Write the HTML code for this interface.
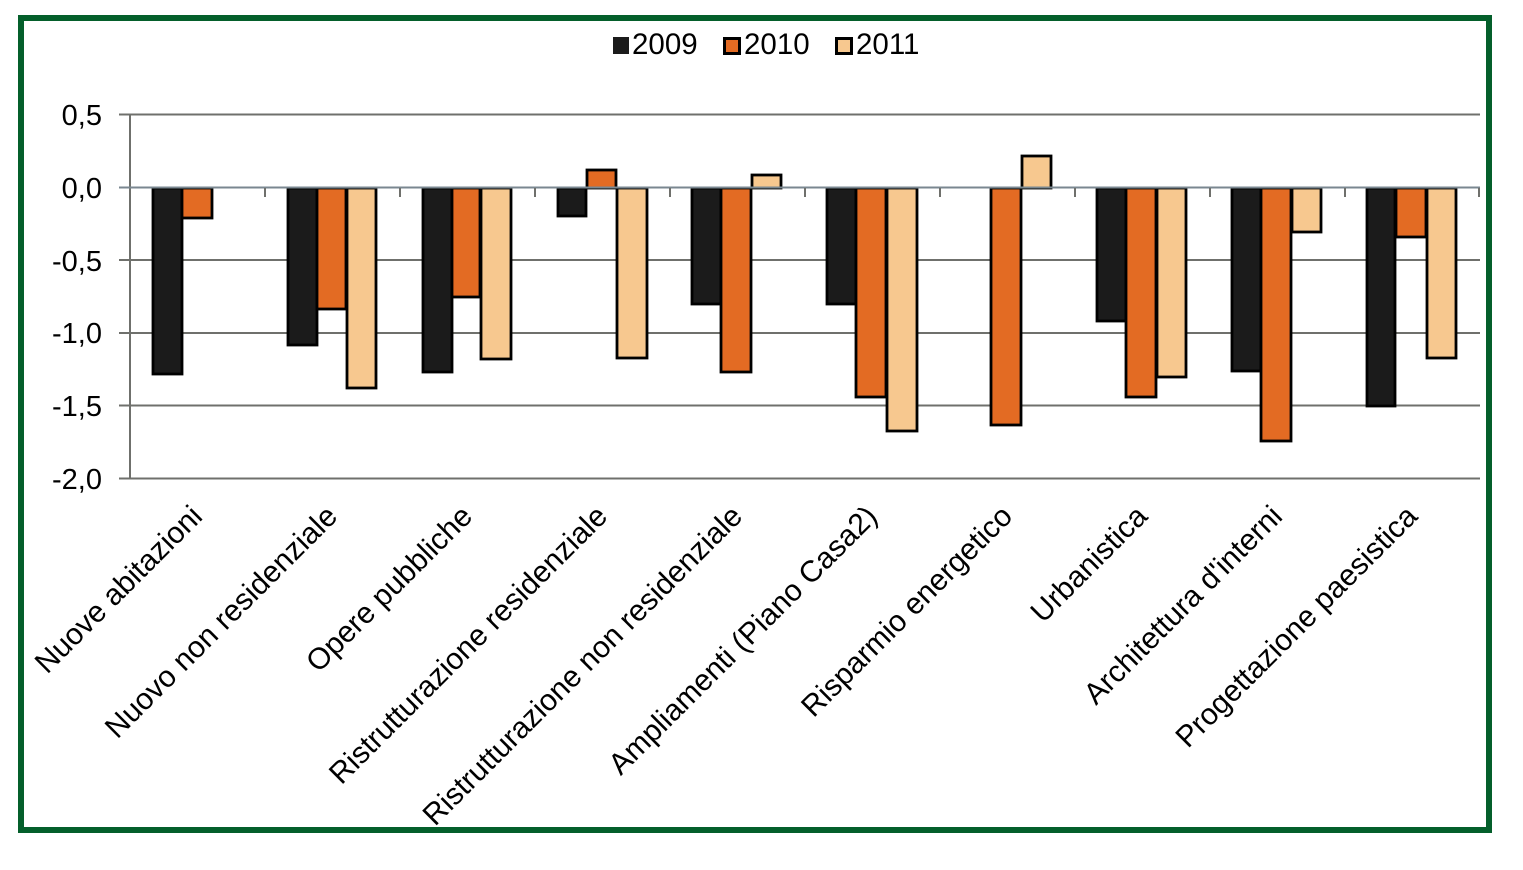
<!DOCTYPE html>
<html><head><meta charset="utf-8"><style>
html,body{margin:0;padding:0;background:#fff;}
svg{display:block;}
text{font-family:"Liberation Sans",Arial,sans-serif;fill:#000;}
</style></head><body>
<svg width="1523" height="870" viewBox="0 0 1523 870" xmlns="http://www.w3.org/2000/svg">
<rect x="0" y="0" width="1523" height="870" fill="#fff"/>
<rect x="21" y="18" width="1468" height="812" fill="#fff" stroke="#045f2b" stroke-width="6"/>

<!-- legend -->
<rect x="613" y="37" width="16" height="17" fill="#1b1b1b"/>
<text x="632" y="54" font-size="29.5">2009</text>
<rect x="724.5" y="38.5" width="15" height="15" fill="#e36b23" stroke="#000" stroke-width="3"/>
<text x="744" y="54" font-size="29.5">2010</text>
<rect x="836.5" y="38.5" width="15" height="15" fill="#f7c88f" stroke="#000" stroke-width="3"/>
<text x="856" y="54" font-size="29.5">2011</text>

<!-- gridlines -->
<g stroke="#6f706c" stroke-width="2">
<line x1="119" y1="114.5" x2="1480" y2="114.5"/>
<line x1="119" y1="260" x2="1480" y2="260"/>
<line x1="119" y1="333" x2="1480" y2="333"/>
<line x1="119" y1="405.5" x2="1480" y2="405.5"/>
<line x1="119" y1="478.5" x2="1480" y2="478.5"/>
<line x1="130" y1="114" x2="130" y2="479"/>
</g>

<!-- y labels -->
<g font-size="29" text-anchor="end">
<text x="102" y="125">0,5</text>
<text x="102" y="198">0,0</text>
<text x="102" y="271">-0,5</text>
<text x="102" y="343">-1,0</text>
<text x="102" y="416">-1,5</text>
<text x="102" y="489">-2,0</text>
</g>

<!-- bars -->
<g stroke="#000" stroke-width="2.8">
<!-- cat1 -->
<rect x="153" y="188" width="29" height="186" fill="#1b1b1b"/>
<rect x="182" y="188" width="30" height="30" fill="#e36b23"/>
<!-- cat2 -->
<rect x="288" y="188" width="29" height="157" fill="#1b1b1b"/>
<rect x="317" y="188" width="29" height="121" fill="#e36b23"/>
<rect x="347" y="188" width="29" height="200" fill="#f7c88f"/>
<!-- cat3 -->
<rect x="423" y="188" width="29" height="184" fill="#1b1b1b"/>
<rect x="452" y="188" width="28" height="109" fill="#e36b23"/>
<rect x="481" y="188" width="30" height="171" fill="#f7c88f"/>
<!-- cat4 -->
<rect x="558" y="188" width="28" height="28" fill="#1b1b1b"/>
<rect x="587" y="170" width="29" height="18" fill="#e36b23"/>
<rect x="617" y="188" width="30" height="170" fill="#f7c88f"/>
<!-- cat5 -->
<rect x="692" y="188" width="29" height="116" fill="#1b1b1b"/>
<rect x="721" y="188" width="30" height="184" fill="#e36b23"/>
<rect x="752" y="175" width="29" height="13" fill="#f7c88f"/>
<!-- cat6 -->
<rect x="827" y="188" width="29" height="116" fill="#1b1b1b"/>
<rect x="856" y="188" width="30" height="209" fill="#e36b23"/>
<rect x="887" y="188" width="30" height="243" fill="#f7c88f"/>
<!-- cat7 -->
<rect x="991" y="188" width="30" height="237" fill="#e36b23"/>
<rect x="1022" y="156" width="29" height="32" fill="#f7c88f"/>
<!-- cat8 -->
<rect x="1097" y="188" width="29" height="133" fill="#1b1b1b"/>
<rect x="1126" y="188" width="30" height="209" fill="#e36b23"/>
<rect x="1157" y="188" width="29" height="189" fill="#f7c88f"/>
<!-- cat9 -->
<rect x="1232" y="188" width="29" height="183" fill="#1b1b1b"/>
<rect x="1261" y="188" width="30" height="253" fill="#e36b23"/>
<rect x="1292" y="188" width="29" height="44" fill="#f7c88f"/>
<!-- cat10 -->
<rect x="1367" y="188" width="28" height="218" fill="#1b1b1b"/>
<rect x="1396" y="188" width="30" height="49" fill="#e36b23"/>
<rect x="1427" y="188" width="29" height="170" fill="#f7c88f"/>
</g>

<!-- zero line and ticks -->
<line x1="119" y1="187.5" x2="1480" y2="187.5" stroke="#7a8790" stroke-width="2"/>
<g stroke="#6f706c" stroke-width="2">
<line x1="265" y1="188" x2="265" y2="197"/>
<line x1="400" y1="188" x2="400" y2="197"/>
<line x1="535" y1="188" x2="535" y2="197"/>
<line x1="670" y1="188" x2="670" y2="197"/>
<line x1="805" y1="188" x2="805" y2="197"/>
<line x1="940" y1="188" x2="940" y2="197"/>
<line x1="1075" y1="188" x2="1075" y2="197"/>
<line x1="1210" y1="188" x2="1210" y2="197"/>
<line x1="1345" y1="188" x2="1345" y2="197"/>
<line x1="1479" y1="188" x2="1479" y2="197"/>
</g>

<!-- category labels -->
<g font-size="30" text-anchor="end">
<text transform="translate(204,518) rotate(-45)">Nuove abitazioni</text>
<text transform="translate(339,518) rotate(-45)">Nuovo non residenziale</text>
<text transform="translate(474,518) rotate(-45)">Opere pubbliche</text>
<text transform="translate(609,518) rotate(-45)">Ristrutturazione residenziale</text>
<text transform="translate(744,518) rotate(-45)">Ristrutturazione non residenziale</text>
<text transform="translate(879,518) rotate(-45)">Ampliamenti (Piano Casa2)</text>
<text transform="translate(1014,518) rotate(-45)">Risparmio energetico</text>
<text transform="translate(1149,518) rotate(-45)">Urbanistica</text>
<text transform="translate(1284,518) rotate(-45)">Architettura d'interni</text>
<text transform="translate(1419,518) rotate(-45)">Progettazione paesistica</text>
</g>
</svg>
</body></html>
